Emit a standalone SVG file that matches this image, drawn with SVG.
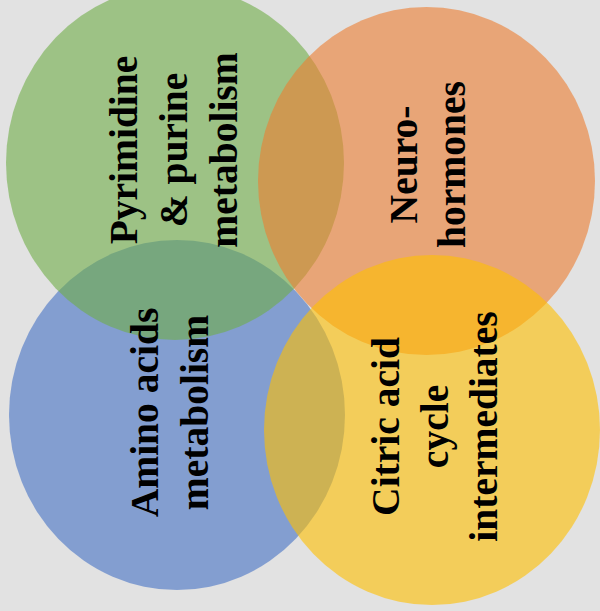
<svg xmlns="http://www.w3.org/2000/svg" width="600" height="611" viewBox="0 0 600 611">
<style>
.c{fill-opacity:0.6}
text{font-family:"Liberation Serif","Times New Roman",serif;font-weight:bold;font-size:39.5px;fill:#000;text-anchor:middle}
</style>
<rect width="600" height="611" fill="#e2e2e2"/>
<g id="amino-circle"><ellipse class="c" cx="177" cy="415" rx="168" ry="175" fill="#4472C4"/></g>
<g id="pyrimidine-circle"><ellipse class="c" cx="175" cy="163" rx="169" ry="177" fill="#70AD47"/></g>
<g id="neuro-circle"><ellipse class="c" cx="426.5" cy="181" rx="168.5" ry="174" fill="#ED7D31"/></g>
<g id="citric-circle"><ellipse class="c" cx="432" cy="430" rx="168" ry="175" fill="#FFC000"/></g>
<g id="pyrimidine-label" transform="translate(0,150) rotate(-90)">
<text x="0" y="137">Pyrimidine</text>
<text x="0" y="187">&amp; purine</text>
<text x="0" y="237">metabolism</text>
</g>
<g id="neuro-label" transform="translate(0,164.5) rotate(-90)">
<text x="0" y="417">Neuro-</text>
<text x="0" y="465">hormones</text>
</g>
<g id="amino-label" transform="translate(0,412.5) rotate(-90)">
<text x="0" y="158">Amino acids</text>
<text x="0" y="208">metabolism</text>
</g>
<g id="citric-label" transform="translate(0,426.5) rotate(-90)">
<text x="0" y="399">Citric acid</text>
<text x="0" y="448">cycle</text>
<text x="0" y="497">intermediates</text>
</g>
</svg>
